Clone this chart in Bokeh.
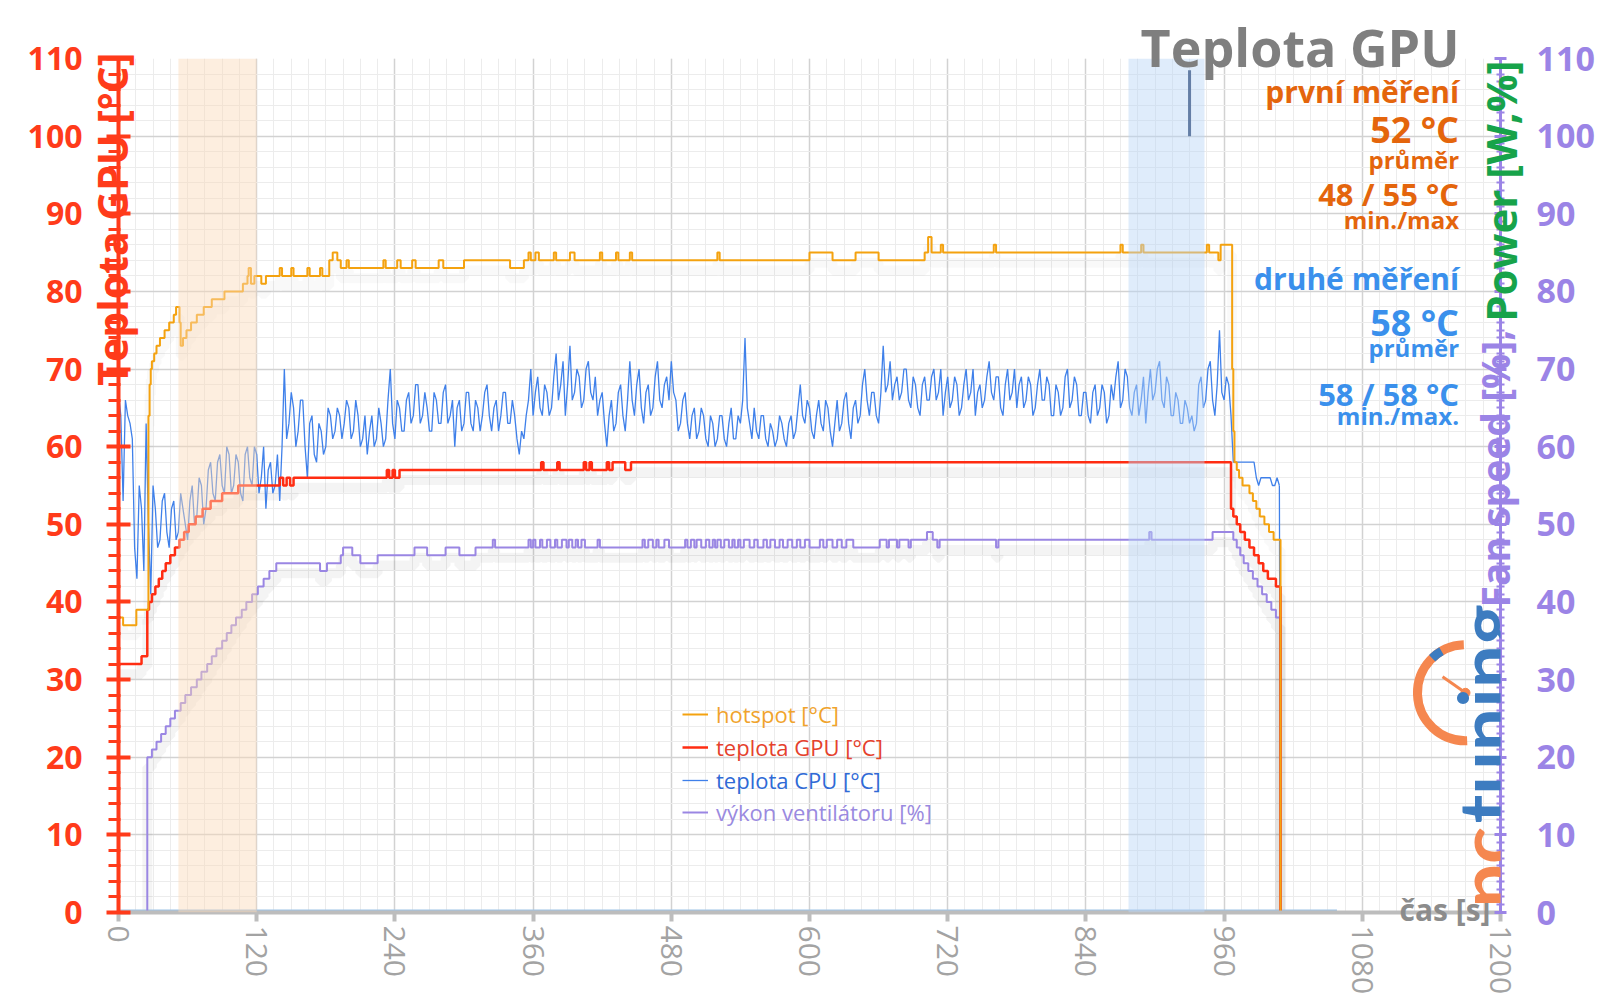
from math import pi
from bokeh.plotting import figure
from bokeh.models import (Range1d, LinearAxis, FixedTicker, BoxAnnotation, Label,
                          Legend, LegendItem, Title)
from bokeh.embed import file_html
from bokeh.resources import INLINE

# ---------------- data ----------------
x_ticks = [0, 120, 240, 360, 480, 600, 720, 840, 960, 1080, 1200]
x_minor = [i * 15 for i in range(81)]
y_ticks = [0, 10, 20, 30, 40, 50, 60, 70, 80, 90, 100, 110]
y_minor_left = [i * 2 for i in range(56)]
y_minor_right = list(range(111))

# hotspot [°C] (change points, step "after")
hs_t = [0, 4, 15.5, 26, 27, 28, 29, 31, 33, 36, 40, 44, 48, 50, 53, 54, 56, 59, 63, 68, 74, 81, 92,
        108, 112, 113, 115, 118, 124, 128, 140, 142, 150, 152, 164, 166, 175, 177, 183, 186, 190,
        193, 198, 200, 230, 232, 242, 245, 255, 258, 278, 282, 300, 340, 352, 356, 358, 362, 365,
        378, 380, 392, 396, 418, 420, 432, 434, 444, 446, 520, 522, 600, 620, 640, 660, 700, 703,
        706, 714, 716, 760, 762, 870, 872, 888, 890, 945, 947, 955, 957, 960, 967, 968, 969, 971,
        973, 976, 979, 982, 985, 988, 991, 995, 999, 1003, 1009, 1010]
hs_v = [38, 37, 39, 64, 68, 70, 71, 72, 73, 74, 75, 76, 77, 78, 76, 73, 74, 75, 76, 77, 78, 79, 80,
        81, 82, 83, 81, 82, 81, 82, 83, 82, 83, 82, 83, 82, 83, 82, 84, 85, 84,
        83, 84, 83, 84, 83, 84, 83, 84, 83, 84, 83, 84, 83, 84, 85, 84, 85, 84,
        85, 84, 85, 84, 85, 84, 85, 84, 85, 84, 85, 84, 85, 84, 85, 84, 85, 87,
        85, 86, 85, 86, 85, 86, 85, 86, 85, 86, 85, 84, 86, 86, 70, 62, 58, 57,
        56, 55, 55, 54, 53, 52, 51, 50, 49, 48, 0, 0]

# teplota GPU [°C]
gpu_t = [0, 20, 25, 26.5, 29, 32, 35, 38, 41, 45, 49, 53, 57, 61, 67, 73, 80, 90, 104, 140, 143, 146,
         149, 152, 233, 235, 238, 240, 244, 367, 369, 381, 383, 404, 406, 409, 411, 424, 426, 429,
         440, 445, 966, 968, 971, 974, 978, 982, 986, 990, 994, 998, 1005, 1009, 1010]
gpu_v = [32, 33, 39, 40, 41, 42, 43, 44, 45, 46, 47, 48, 49, 50, 51, 52, 53, 54, 55, 56, 55, 56,
         55, 56, 57, 56, 57, 56, 57, 58, 57, 58, 57, 58, 57, 58, 57, 58, 57, 58,
         57, 58, 52, 51, 50, 49, 48, 47, 46, 45, 44, 43, 42, 0, 0]

# výkon ventilátoru [%]
fan_t = [0, 25, 29, 33, 37, 41, 45, 49, 54, 58, 63, 68, 72, 77, 81, 85, 90, 94, 98, 102, 107, 111,
         116, 121, 126, 131, 137, 175, 181, 193, 195, 203, 210, 225, 257, 268, 284, 296, 310, 325,
         327, 356, 358, 360, 362, 366, 368, 372, 375, 379, 381, 385, 389, 391, 394, 397, 399, 402,
         405, 416, 418, 455, 457, 460, 464, 467, 469, 474, 478, 492, 494, 497, 500, 502, 506, 510,
         513, 516, 518, 520, 523, 526, 530, 533, 535, 538, 540, 543, 548, 552, 555, 560, 563, 566,
         570, 574, 577, 581, 585, 589, 592, 596, 600, 609, 612, 615, 620, 624, 628, 632, 638, 661,
         667, 669, 676, 678, 686, 688, 702, 707, 711, 713, 762, 764, 895, 897, 950, 968, 971, 974,
         977, 981, 985, 989, 993, 997, 1001, 1005, 1009, 1010]
fan_v = [0, 20, 21, 22, 23, 24, 25, 26, 27, 28, 29, 30, 31, 32, 33, 34, 35, 36, 37, 38, 39, 40,
         41, 42, 43, 44, 45, 44, 45, 46, 47, 46, 45, 46, 47, 46, 47, 46, 47, 48,
         47, 48, 47, 48, 47, 48, 47, 48, 47, 48, 47, 48, 47, 48, 47, 48, 47, 48,
         47, 48, 47, 48, 47, 48, 47, 48, 47, 48, 47, 48, 47, 48, 47, 48, 47, 48,
         47, 48, 47, 48, 47, 48, 47, 48, 47, 48, 47, 48, 47, 48, 47, 48, 47, 48,
         47, 48, 47, 48, 47, 48, 47, 48, 47, 48, 47, 48, 47, 48, 47, 48, 47, 48,
         47, 48, 47, 48, 47, 48, 49, 48, 47, 48, 47, 48, 49, 48, 49, 48, 47, 46,
         45, 44, 43, 42, 41, 40, 39, 38, 0, 0]

# teplota CPU [°C], one value every 2 s from 0 s
cpu_v = [
    67, 64, 53, 66, 64, 63, 61, 47, 43, 55, 52, 44, 63, 50, 41, 55, 52, 47, 48, 53,
    54, 49, 47, 52, 53, 48, 49, 54, 52, 50, 48, 53, 55, 50, 51, 56, 55, 50, 52, 57,
    58, 54, 53, 58, 59, 55, 54, 60, 59, 54, 55, 59, 58, 54, 53, 59, 60, 56, 55, 60,
    59, 54, 56, 60, 52, 57, 58, 54, 55, 59, 53, 60, 70, 61, 63, 67, 65, 60, 62, 66,
    66, 60, 56, 63, 64, 59, 58, 63, 62, 59, 60, 65, 64, 61, 62, 65, 64, 61, 63, 66,
    65, 61, 62, 66, 64, 60, 61, 64, 59, 62, 64, 60, 61, 65, 63, 60, 61, 66, 70, 63,
    61, 66, 65, 62, 62, 66, 67, 63, 64, 68, 68, 63, 64, 67, 65, 62, 62, 67, 66, 63,
    63, 67, 68, 63, 64, 66, 60, 65, 66, 62, 63, 67, 67, 63, 62, 66, 65, 62, 64, 67,
    68, 64, 62, 65, 66, 62, 64, 67, 67, 63, 63, 66, 64, 61, 59, 62, 61, 64, 66, 70,
    64, 67, 69, 65, 64, 68, 67, 64, 65, 69, 72, 66, 68, 71, 64, 68, 73, 66, 67, 70,
    69, 65, 66, 70, 71, 67, 66, 69, 64, 66, 67, 63, 60, 64, 66, 62, 63, 67, 68, 64,
    62, 66, 71, 66, 64, 68, 70, 65, 63, 67, 68, 64, 65, 69, 71, 66, 65, 68, 69, 66,
    71, 67, 66, 62, 63, 66, 67, 63, 61, 64, 65, 61, 62, 65, 64, 61, 60, 64, 63, 60,
    61, 64, 64, 61, 60, 63, 65, 61, 61, 64, 63, 66, 74, 65, 63, 61, 65, 62, 61, 64,
    64, 61, 60, 63, 62, 60, 61, 64, 63, 61, 60, 63, 64, 61, 62, 65, 68, 64, 63, 66,
    65, 62, 61, 64, 66, 63, 62, 66, 65, 62, 60, 63, 66, 62, 63, 66, 67, 63, 61, 65,
    66, 63, 64, 68, 70, 66, 64, 67, 67, 64, 63, 67, 73, 67, 68, 71, 66, 68, 69, 66,
    67, 70, 70, 66, 65, 69, 68, 65, 64, 68, 69, 66, 66, 69, 70, 66, 67, 70, 64, 67,
    69, 65, 66, 69, 68, 64, 65, 68, 70, 66, 67, 70, 64, 67, 68, 65, 66, 69, 71, 67,
    66, 69, 69, 65, 64, 68, 70, 66, 67, 70, 65, 68, 69, 65, 66, 69, 68, 64, 65, 68,
    70, 66, 66, 69, 68, 64, 64, 68, 67, 64, 65, 69, 70, 65, 66, 69, 68, 64, 64, 67,
    67, 64, 63, 67, 68, 64, 65, 68, 67, 63, 64, 68, 66, 69, 71, 65, 66, 70, 69, 65,
    64, 67, 68, 64, 66, 69, 63, 67, 70, 66, 67, 70, 71, 66, 65, 69, 68, 64, 64, 67,
    66, 63, 63, 66, 65, 63, 64, 62, 63, 68, 69, 65, 66, 70, 71, 66, 64, 68, 75, 67,
    66, 69, 68, 64, 58, 58, 58, 58, 58, 58, 58, 58, 58, 58, 56, 55, 56, 56, 56, 56,
    56, 55, 55, 56, 55]
cpu_step = 2
cpu_tail_t = [1008, 1009, 1058]
cpu_tail_v = [55, 0, 0]

# power line lying at zero
pw_t = [0, 1058]
pw_v = [0, 0]

# measurement windows
band1 = (52, 120)
band2 = (877, 943)
mark_x = [930]
mark_y0 = [100]
mark_y1 = [108.5]

# ---------------- colours ----------------
C_HS = "#f4a20f"
C_GPU = "#ff2d12"
C_CPU = "#3f80ea"
C_FAN = "#9a86e3"
C_RED_AX = "#ff3b1a"
C_PURP = "#9b84e6"
C_GREEN = "#17a34a"
C_ORTXT = "#e4650c"
C_BLTXT = "#3a90ec"
C_GRAY = "#7f7f7f"
FONT = "Open Sans"
NB = "\u00a0"

p = figure(width=1596, height=1000, output_backend="svg", toolbar_location=None,
           x_range=Range1d(0, 1200), y_range=Range1d(0, 110),
           min_border_left=118, min_border_right=96, min_border_top=58, min_border_bottom=88)
p.outline_line_color = None
p.extra_y_ranges = {"shadow": Range1d(1.3, 111.3)}

# title "Teplota GPU" (drawn in the top panel so it is not clipped)
p.title.text = "Teplota GPU"
p.title.align = "right"
p.title.offset = 41
p.title.vertical_align = "bottom"
p.title.standoff = -46
p.title.text_font = FONT
p.title.text_font_size = "52px"
p.title.text_font_style = "bold"
p.title.text_color = C_GRAY

# grid
p.xgrid.grid_line_color = "#d2d2d2"
p.xgrid.grid_line_width = 1.5
p.xgrid.minor_grid_line_color = "#ececec"
p.ygrid.grid_line_color = "#d2d2d2"
p.ygrid.grid_line_width = 1.5
p.ygrid.minor_grid_line_color = "#ececec"

# x axis
xa = p.xaxis[0]
xa.ticker = FixedTicker(ticks=x_ticks, minor_ticks=x_minor)
xa.major_label_orientation = "vertical"
xa.axis_line_color = "#bdbdbd"
xa.axis_line_width = 4
xa.major_tick_line_color = "#bdbdbd"
xa.major_tick_line_width = 4
xa.major_tick_in = 0
xa.major_tick_out = 9
xa.minor_tick_line_color = None
xa.major_label_text_font = FONT
xa.major_label_text_font_size = "30px"
xa.major_label_text_color = "#a3a3a3"
xa.major_label_standoff = 4

p.add_layout(Title(text="čas [s]", align="right", offset=10, vertical_align="top", standoff=-218,
                   text_font=FONT, text_font_size="30px", text_font_style="bold",
                   text_color="#8c8c8c"), "below")

# left axis
ya = p.yaxis[0]
ya.ticker = FixedTicker(ticks=y_ticks, minor_ticks=y_minor_left)
ya.axis_line_color = C_RED_AX
ya.axis_line_width = 4
ya.major_tick_line_color = C_RED_AX
ya.major_tick_line_width = 4
ya.major_tick_in = 12
ya.major_tick_out = 12
ya.minor_tick_line_color = C_RED_AX
ya.minor_tick_line_width = 3
ya.minor_tick_in = 2
ya.minor_tick_out = 10
ya.major_label_text_font = FONT
ya.major_label_text_font_size = "32px"
ya.major_label_text_font_style = "bold"
ya.major_label_text_color = C_RED_AX
ya.major_label_standoff = 24
ya.axis_label = NB * 50 + "Teplota GPU [°C]"
ya.axis_label_standoff = -115
ya.axis_label_text_font = FONT
ya.axis_label_text_font_size = "41px"
ya.axis_label_text_font_style = "bold"
ya.axis_label_text_color = C_RED_AX

# purple part of the right-hand label, carried by a title in the left panel
p.add_layout(Title(text="Fan speed [%],", align="left", offset=305, vertical_align="bottom",
                   standoff=-2881, text_font=FONT, text_font_size="39px",
                   text_font_style="bold", text_color=C_PURP), "left")

# right axis (fan speed / power)
ra = LinearAxis(ticker=FixedTicker(ticks=y_ticks, minor_ticks=y_minor_right))
ra.axis_line_color = C_PURP
ra.axis_line_width = 3
ra.major_tick_line_color = C_PURP
ra.major_tick_line_width = 3
ra.major_tick_in = 6
ra.major_tick_out = 6
ra.minor_tick_line_color = C_PURP
ra.minor_tick_line_width = 2
ra.minor_tick_in = 4
ra.minor_tick_out = 4
ra.major_label_text_font = FONT
ra.major_label_text_font_size = "34px"
ra.major_label_text_font_style = "bold"
ra.major_label_text_color = C_PURP
ra.major_label_standoff = 30
ra.axis_label = NB * 15 + "Power [W,%]"
ra.axis_label_standoff = -97
ra.axis_label_text_font = FONT
ra.axis_label_text_font_size = "42px"
ra.axis_label_text_font_style = "bold"
ra.axis_label_text_color = C_GREEN
if hasattr(ra, "axis_label_orientation"):
    ra.axis_label_orientation = pi / 2
p.add_layout(ra, "right")

# bands
p.add_layout(BoxAnnotation(left=band1[0], right=band1[1], fill_color="#fbd9b8", fill_alpha=0.45,
                           line_color=None))
p.add_layout(BoxAnnotation(left=band2[0], right=band2[1], fill_color="#b9d5f7", fill_alpha=0.45,
                           line_color=None))

cpu_t = [i * cpu_step for i in range(len(cpu_v))]

# soft shadows
for tt, vv, a in ((gpu_t, gpu_v, 0.045), (fan_t, fan_v, 0.045), (hs_t, hs_v, 0.025)):
    p.step(tt, vv, mode="after", line_width=10, line_color="#000000", line_alpha=a,
           y_range_name="shadow")

# series
p.line(pw_t, pw_v, line_width=6, line_color="#9dc3e6")
r_fan = p.step(fan_t, fan_v, mode="after", line_width=2, line_color=C_FAN)
r_cpu = p.line(cpu_t, cpu_v, line_width=1.3, line_color=C_CPU)
p.line(cpu_tail_t, cpu_tail_v, line_width=1.3, line_color=C_CPU)
r_gpu = p.step(gpu_t, gpu_v, mode="after", line_width=2.5, line_color=C_GPU)
r_hs = p.step(hs_t, hs_v, mode="after", line_width=2, line_color=C_HS)
p.segment(x0=mark_x, y0=mark_y0, x1=mark_x, y1=mark_y1, line_width=3, line_color="#1f3864")

# legends (one per item so each label keeps its own colour)
leg_specs = [("hotspot [°C]", r_hs, "#f0a32c", 183),
             ("teplota GPU [°C]", r_gpu, "#e5412c", 150),
             ("teplota CPU [°C]", r_cpu, "#2f6ad6", 117),
             ("výkon ventilátoru [%]", r_fan, "#9a8ae0", 85)]
for lab, rend, col, bottom in leg_specs:
    lg = Legend(items=[LegendItem(label=lab, renderers=[rend])], location=(564, bottom),
                border_line_color=None, background_fill_alpha=0, label_text_color=col,
                label_text_font=FONT, label_text_font_size="22px", glyph_width=26,
                glyph_height=26, label_height=26, padding=0, margin=0, spacing=0,
                label_standoff=8)
    p.add_layout(lg)


def lbl(x, y, text, size, color, align="right", angle=0, baseline="alphabetic", style="bold",
        font=FONT):
    p.add_layout(Label(x=x, y=y, text=text, text_font=font, text_font_size=size,
                       text_font_style=style, text_color=color, text_align=align,
                       text_baseline=baseline, angle=angle))


lbl(1164, 105.7, "první měření", "30px", C_ORTXT)
lbl(1164, 100.9, "52 °C", "36px", C_ORTXT)
lbl(1164, 97.0, "průměr", "24px", C_ORTXT)
lbl(1164, 92.5, "48 / 55 °C", "31px", C_ORTXT)
lbl(1164, 89.2, "min./max", "24px", C_ORTXT)
lbl(1164, 81.6, "druhé měření", "30px", C_BLTXT)
lbl(1164, 76.0, "58 °C", "36px", C_BLTXT)
lbl(1164, 72.8, "průměr", "24px", C_BLTXT)
lbl(1164, 66.75, "58 / 58 °C", "31px", C_BLTXT)
lbl(1164, 64.05, "min./max.", "24px", C_BLTXT)

# pctuning logo
lbl(1186, 0.6, "pc", "77px", "#f5874f", align="left", angle=pi / 2, font="Lato")
lbl(1186, 11.5, "tuning", "77px", "#3d7cc0", align="left", angle=pi / 2, font="Lato")
p.arc(x=[1169.6], y=[28.3], radius=48, radius_units="screen", start_angle=92 * pi / 180,
      end_angle=272 * pi / 180, line_width=9, line_color="#f5874f")
p.arc(x=[1169.6], y=[28.3], radius=48, radius_units="screen", start_angle=120 * pi / 180,
      end_angle=134 * pi / 180, line_width=9, line_color="#3d7cc0")
p.ray(x=[1169.6], y=[28.3], length=28, length_units="screen", angle=145 * pi / 180,
      line_width=3, line_color="#f5874f")
p.scatter(x=[1169.6], y=[28.3], size=9, color="#f5874f")

open("out.html", "w").write(file_html(p, INLINE))
